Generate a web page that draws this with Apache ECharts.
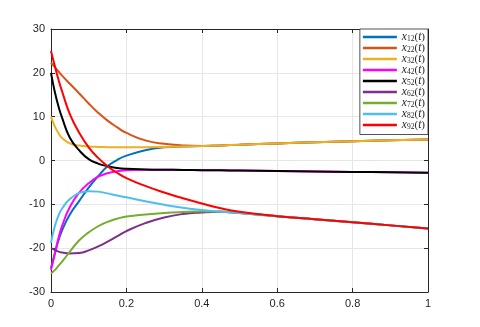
<!DOCTYPE html>
<html>
<head>
<meta charset="utf-8">
<script src="https://cdn.jsdelivr.net/npm/echarts@6/dist/echarts.min.js"></script>
<style>
html,body{margin:0;padding:0;background:#fff;}
#chart{width:480px;height:327px;}
</style>
</head>
<body>
<div id="chart"></div>
<script>
// time samples (shared by all series)
const tValues = [0, 0.01, 0.02, 0.03, 0.05, 0.075, 0.1, 0.125, 0.15, 0.175, 0.2, 0.25, 0.3, 0.35, 0.4, 0.45, 0.5, 0.6, 0.7, 0.8, 0.9, 1.0];

const x12 = [-24.5, -21.3, -18.2, -15.8, -12.3, -9.2, -6.2, -3.6, -1.3, 0.1, 1.1, 2.35, 3.0, 3.2, 3.3, 3.45, 3.6, 3.9, 4.15, 4.4, 4.6, 4.8];
const x22 = [22.3, 21.3, 20.3, 19.3, 17.5, 15.3, 13.0, 10.9, 9.1, 7.6, 6.3, 4.6, 3.8, 3.45, 3.32, 3.45, 3.6, 3.9, 4.15, 4.4, 4.6, 4.8];
const x32 = [10, 7.8, 6.2, 5.1, 3.9, 3.4, 3.2, 3.1, 3.05, 3.0, 3.0, 3.05, 3.1, 3.2, 3.3, 3.45, 3.6, 3.9, 4.15, 4.4, 4.6, 4.8];
const x42 = [-25, -21.3, -17.6, -14.8, -10.6, -7.3, -5.2, -3.7, -2.9, -2.45, -2.25, -2.1, -2.12, -2.15, -2.2, -2.25, -2.3, -2.4, -2.5, -2.6, -2.7, -2.8];
const x52 = [20, 15.7, 12.3, 9.6, 5.2, 2.3, 0.3, -0.7, -1.3, -1.7, -1.9, -2.05, -2.12, -2.15, -2.2, -2.25, -2.3, -2.4, -2.5, -2.6, -2.7, -2.8];
const x62 = [-20, -20.4, -20.8, -21.0, -21.2, -21.1, -20.5, -19.6, -18.5, -17.3, -16.1, -14.3, -13.0, -12.2, -11.85, -11.7, -12.0, -12.7, -13.4, -14.1, -14.8, -15.5];
const x72 = [-25.8, -25.0, -24.0, -23.0, -20.8, -18.2, -16.4, -15.0, -14.0, -13.3, -12.8, -12.3, -11.95, -11.75, -11.65, -11.65, -12.0, -12.7, -13.4, -14.1, -14.8, -15.5];
const x82 = [-18.8, -15.0, -12.5, -10.9, -8.8, -7.4, -7.0, -7.1, -7.5, -8.0, -8.4, -9.3, -10.1, -10.8, -11.3, -11.7, -12.0, -12.7, -13.4, -14.1, -14.8, -15.5];
const x92 = [25, 21.6, 18.4, 15.6, 10.6, 6.3, 3.0, 0.6, -1.3, -2.8, -4.0, -5.8, -7.3, -8.6, -9.8, -10.9, -11.7, -12.7, -13.4, -14.1, -14.8, -15.5];

const seriesValues = [x12, x22, x32, x42, x52, x62, x72, x82, x92];
const subscripts = ['12', '22', '32', '42', '52', '62', '72', '82', '92'];
const seriesNames = subscripts.map(s => 'x' + s + '(t)');
const colors = ['#0072BD', '#D95319', '#EDB120', '#FF00FF', '#000000', '#7E2F8E', '#77AC30', '#4DBEEE', '#FF0000'];

const xTicks = [0, 0.2, 0.4, 0.6, 0.8, 1];
const yTicks = [-30, -20, -10, 0, 10, 20, 30];

const axisColor = '#262626';
const gridColor = '#e6e6e6';
const labelFont = {color: axisColor, fontFamily: 'Liberation Sans, Arial, sans-serif', fontSize: 11};

const chart = echarts.init(document.getElementById('chart'), null, {renderer: 'canvas'});

const series = seriesValues.map((vals, i) => ({
  name: seriesNames[i],
  type: 'line',
  xAxisIndex: 0,
  yAxisIndex: 0,
  data: vals.map((v, k) => [tValues[k], v]),
  showSymbol: false,
  symbol: 'none',
  smooth: 0.5,
  lineStyle: {color: colors[i], width: 2},
  itemStyle: {color: colors[i]},
  z: 2 + i
}));

const option = {
  animation: false,
  backgroundColor: '#fff',
  grid: {left: 51, right: 52, top: 29, bottom: 35, containLabel: false},
  xAxis: [
    {
      type: 'value', min: xTicks[0], max: xTicks[xTicks.length - 1], interval: 0.2,
      position: 'bottom',
      axisLine: {show: true, onZero: false, lineStyle: {color: axisColor, width: 1}},
      axisTick: {show: true, inside: true, length: 4, lineStyle: {color: axisColor}},
      axisLabel: Object.assign({margin: 6}, labelFont),
      splitLine: {show: true, lineStyle: {color: gridColor, width: 1}}
    },
    {
      type: 'value', min: xTicks[0], max: xTicks[xTicks.length - 1], interval: 0.2,
      position: 'top',
      axisLine: {show: true, onZero: false, lineStyle: {color: axisColor, width: 1}},
      axisTick: {show: true, inside: true, length: 4, lineStyle: {color: axisColor}},
      axisLabel: {show: false},
      splitLine: {show: false}
    }
  ],
  yAxis: [
    {
      type: 'value', min: yTicks[0], max: yTicks[yTicks.length - 1], interval: 10,
      position: 'left',
      axisLine: {show: true, onZero: false, lineStyle: {color: axisColor, width: 1}},
      axisTick: {show: true, inside: true, length: 4, lineStyle: {color: axisColor}},
      axisLabel: Object.assign({margin: 6}, labelFont),
      splitLine: {show: true, lineStyle: {color: gridColor, width: 1}}
    },
    {
      type: 'value', min: yTicks[0], max: yTicks[yTicks.length - 1], interval: 10,
      position: 'right',
      axisLine: {show: true, onZero: false, lineStyle: {color: axisColor, width: 1}},
      axisTick: {show: true, inside: true, length: 4, lineStyle: {color: axisColor}},
      axisLabel: {show: false},
      splitLine: {show: false}
    }
  ],
  legend: {
    orient: 'vertical',
    right: 52,
    top: 29,
    padding: [2, 3, 3, 3],
    itemGap: -1.5,
    itemWidth: 34,
    itemHeight: 2.5,
    icon: 'rect',
    backgroundColor: '#fff',
    borderColor: axisColor,
    borderWidth: 0.8,
    borderRadius: 0,
    data: seriesNames,
    formatter: function (name) {
      const i = seriesNames.indexOf(name);
      return '{i|x}{s|' + subscripts[i] + '}{p|(}{i|t}{p|)}';
    },
    textStyle: {
      color: axisColor,
      padding: [0, 0, 0, 0],
      rich: {
        i: {fontFamily: 'Liberation Serif', fontStyle: 'italic', fontSize: 11.5, lineHeight: 13, color: axisColor},
        p: {fontFamily: 'Liberation Serif', fontSize: 11, lineHeight: 13, color: axisColor},
        s: {fontFamily: 'Liberation Serif', fontSize: 7.5, lineHeight: 13, verticalAlign: 'bottom', color: axisColor}
      }
    }
  },
  series: series
};

chart.setOption(option);
</script>
</body>
</html>
